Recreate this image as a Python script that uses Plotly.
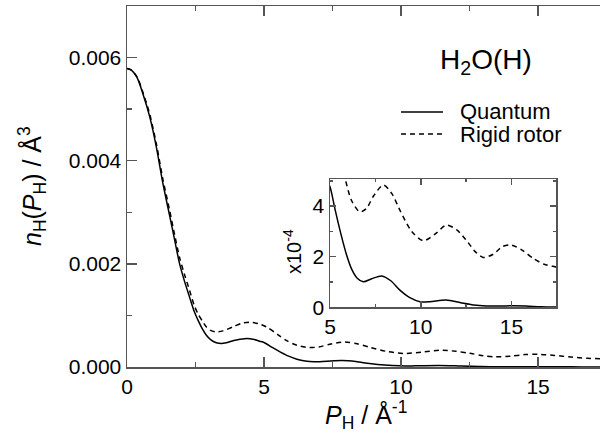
import plotly.graph_objects as go

# ---- data (momentum P_H in 1/Angstrom, density n_H in Angstrom^3) ----
p_quantum = [0.0, 0.15, 0.36, 0.58, 0.83, 1.07, 1.31, 1.55, 1.74, 1.92, 2.1, 2.28, 2.45, 2.59,
             2.75, 2.89, 3.05, 3.26, 3.45, 3.62, 3.9, 4.3, 4.6, 4.84, 5.0, 5.3, 5.6, 5.9, 6.2,
             6.5, 6.83, 7.3, 7.85, 8.35, 8.85, 9.4, 9.96, 10.5, 11.4, 12.2, 12.9, 13.6, 14.4,
             15.0, 15.8, 16.6, 17.5]
n_quantum = [5.79, 5.76, 5.62, 5.30, 4.85, 4.27, 3.56, 2.95, 2.46, 2.00, 1.66, 1.36, 1.08, 0.91,
             0.74, 0.62, 0.53, 0.47, 0.455, 0.47, 0.515, 0.55, 0.54, 0.50, 0.476, 0.38, 0.29,
             0.21, 0.15, 0.115, 0.101, 0.113, 0.124, 0.105, 0.068, 0.038, 0.022, 0.022, 0.029,
             0.018, 0.009, 0.005, 0.005, 0.006, 0.005, 0.002, 0.001]

p_rigid = [0.0, 0.15, 0.36, 0.58, 0.83, 1.07, 1.31, 1.55, 1.74, 1.92, 2.1, 2.28, 2.45, 2.59,
           2.75, 2.89, 3.05, 3.26, 3.5, 3.87, 4.2, 4.47, 4.8, 5.08, 5.5, 5.83, 6.2, 6.65, 7.0,
           7.4, 7.94, 8.4, 8.85, 9.5, 10.14, 10.8, 11.42, 12.0, 12.5, 13.0, 13.44, 14.0, 14.5,
           15.0, 15.6, 16.2, 16.8, 17.39, 17.5]
n_rigid = [5.79, 5.76, 5.63, 5.33, 4.90, 4.33, 3.64, 3.05, 2.56, 2.12, 1.79, 1.49, 1.20, 1.03,
           0.89, 0.78, 0.71, 0.68, 0.70, 0.78, 0.85, 0.87, 0.84, 0.78, 0.63, 0.51, 0.42, 0.377,
           0.39, 0.44, 0.483, 0.45, 0.384, 0.30, 0.263, 0.29, 0.325, 0.305, 0.266, 0.22, 0.197,
           0.21, 0.24, 0.246, 0.225, 0.193, 0.17, 0.16, 0.158]
n_unit = 1e-3  # values above are in units of 1e-3 Angstrom^3

main_xticks = [0, 5, 10, 15]
main_yticks = [0.0, 0.002, 0.004, 0.006]
main_ytext = ["0.000", "0.002", "0.004", "0.006"]
inset_xticks = [5, 10, 15]
inset_yticks = [0, 2, 4]

series_names = ["Quantum", "Rigid rotor"]

W, H = 600, 440
ML, MR, MT, MB = 127, 0, 6, 73
PW, PH = W - ML - MR, H - MT - MB


def px(x):
    return (x - ML) / PW


def py(y):
    return (H - MB - y) / PH


AX = "#555555"
FONT = "Liberation Sans, Arial, sans-serif"

fig = go.Figure()
styles = [dict(color="black", width=1.5), dict(color="black", width=1.5, dash="5px,4px")]
for (xs, ys), st, nm in zip([(p_quantum, n_quantum), (p_rigid, n_rigid)], styles, series_names):
    fig.add_trace(go.Scatter(x=xs, y=[v * n_unit for v in ys], mode="lines", name=nm,
                             line=dict(shape="spline", smoothing=0.8, **st),
                             xaxis="x", yaxis="y", hoverinfo="skip"))
    fig.add_trace(go.Scatter(x=xs, y=[v * n_unit * 1e4 for v in ys], mode="lines", name=nm,
                             line=dict(shape="spline", smoothing=0.8, **st),
                             xaxis="x2", yaxis="y2", hoverinfo="skip", showlegend=False))

common = dict(showgrid=False, zeroline=False, showline=True, linecolor=AX, linewidth=1.5,
              ticks="inside", tickcolor=AX, tickwidth=1.5,
              tickfont=dict(size=21, color="black", family=FONT))

fig.update_layout(
    width=W, height=H,
    margin=dict(l=ML, r=MR, t=MT, b=MB, pad=0),
    plot_bgcolor="white", paper_bgcolor="white",
    showlegend=False, hovermode=False,
    font=dict(family=FONT, color="black"),
    xaxis=dict(domain=[0, 1], range=[0, 17.26], tickvals=main_xticks, ticklen=10,
               mirror="allticks",
               minor=dict(dtick=2.5, tick0=0, ticklen=5, ticks="inside", tickcolor=AX,
                          tickwidth=1.5),
               **common),
    yaxis=dict(domain=[0, 1], range=[0, 0.007], tickvals=main_yticks, ticktext=main_ytext,
               ticklen=10, mirror=False,
               minor=dict(dtick=0.001, tick0=0, ticklen=5, ticks="inside", tickcolor=AX,
                          tickwidth=1.5),
               **common),
    xaxis2=dict(domain=[px(330), px(556)], range=[5, 17.45], anchor="y2",
                tickvals=inset_xticks, ticklen=6, mirror="allticks",
                minor=dict(dtick=2.5, tick0=0, ticklen=3, ticks="inside", tickcolor=AX,
                           tickwidth=1.5),
                **common),
    yaxis2=dict(domain=[py(307.3), py(179)], range=[0, 5.07], anchor="x2",
                tickvals=inset_yticks, ticklen=6, mirror="allticks",
                minor=dict(dtick=1, tick0=0, ticklen=3, ticks="inside", tickcolor=AX,
                           tickwidth=1.5),
                **common),
)

ann = [
    dict(text="<i>n</i><sub>H</sub>(<i>P</i><sub>H</sub>) / Å<sup>3</sup>",
         x=px(32), y=py(186), textangle=-90, font=dict(size=25)),
    dict(text="<i>P</i><sub>H</sub> / Å<sup>-1</sup>", x=px(366), y=py(415),
         font=dict(size=25)),
    dict(text="x10<sup>-4</sup>", x=px(293), y=py(252), textangle=-90, font=dict(size=20)),
    dict(text="H<sub>2</sub>O(H)", x=px(486), y=py(62), font=dict(size=28)),
    dict(text=series_names[0], x=px(458), y=py(112), xanchor="left", font=dict(size=22)),
    dict(text=series_names[1], x=px(458), y=py(134), xanchor="left", font=dict(size=22)),
]
for a in ann:
    a.setdefault("xanchor", "center")
    fig.add_annotation(xref="paper", yref="paper", showarrow=False, yanchor="middle",
                       font_family=FONT, font_color="black", **{k: v for k, v in a.items()})

fig.add_shape(type="line", xref="paper", yref="paper", x0=px(401), x1=px(443),
              y0=py(112), y1=py(112), line=dict(color="black", width=1.5))
fig.add_shape(type="line", xref="paper", yref="paper", x0=px(401), x1=px(443),
              y0=py(134), y1=py(134), line=dict(color="black", width=1.5, dash="5px,4px"))

fig.write_html("out.html",
               config={"displayModeBar": False, "staticPlot": True},
               post_script="document.body.style.margin='0px';"
                           "document.body.style.overflow='hidden';")
